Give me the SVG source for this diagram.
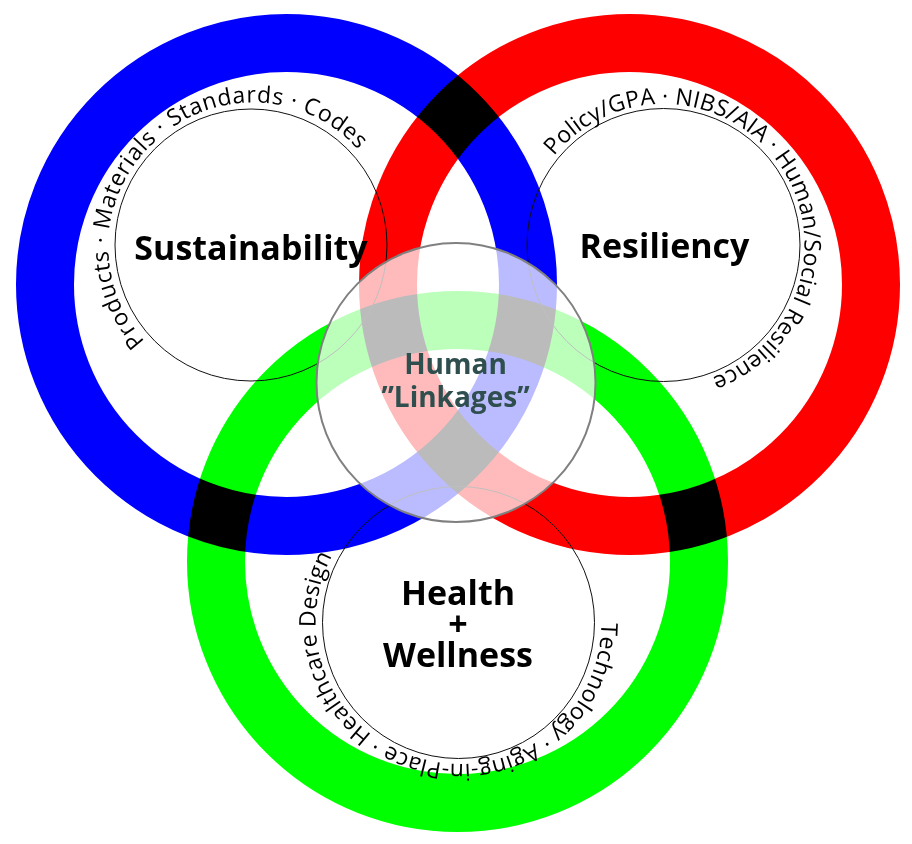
<svg xmlns="http://www.w3.org/2000/svg" width="912" height="844" viewBox="0 0 912 844">
<style>
.ring{fill:none;stroke-width:58;mix-blend-mode:multiply}
.thin{fill:none;stroke:#111;stroke-width:1}
.title{font-family:"Open Sans","Liberation Sans",sans-serif;font-weight:700;font-size:34px;fill:#000;text-anchor:middle}
.arc{font-family:"Open Sans","Liberation Sans",sans-serif;font-size:23px;fill:#000}
.hub{font-family:"Open Sans","Liberation Sans",sans-serif;font-weight:700;font-size:28px;fill:#2f4f4f;text-anchor:middle}
</style>
<defs>
<path id="pS" d="M345.3,349.8 A141,141 0 1 1 156.7,140.2 A141,141 0 1 1 345.3,349.8"/>
<path id="pR" d="M548.7,326.9 A141,141 0 1 1 778.3,163.1 A141,141 0 1 1 548.7,326.9"/>
<path id="pH" d="M492.6,485.7 A141,141 0 1 1 424.4,759.3 A141,141 0 1 1 492.6,485.7"/>
</defs>
<rect width="912" height="844" fill="#fff"/>
<g id="rings" style="isolation:isolate">
<circle id="ring-sustainability" class="ring" cx="286.5" cy="284.5" r="241.5" stroke="#0000ff"/>
<circle id="ring-resiliency" class="ring" cx="629.5" cy="284.5" r="241.5" stroke="#ff0000"/>
<circle id="ring-health" class="ring" cx="457.5" cy="561.5" r="241.5" stroke="#00ff00"/>
</g>
<g id="sustainability">
<circle class="thin" cx="251" cy="245" r="136"/>
<text class="arc"><textPath href="#pS" startOffset="50%" text-anchor="middle" textLength="449" lengthAdjust="spacing">Products · Materials · Standards · Codes</textPath></text>
<text class="title" x="251" y="260">Sustainability</text>
</g>
<g id="resiliency">
<circle class="thin" cx="663.5" cy="245" r="136.5"/>
<text class="arc"><textPath href="#pR" startOffset="50%" text-anchor="middle" textLength="519" lengthAdjust="spacing">Policy/GPA · NIBS/AIA · Human/Social Resilience</textPath></text>
<text class="title" x="664.5" y="258">Resiliency</text>
</g>
<g id="health">
<circle class="thin" cx="458.5" cy="622.5" r="136"/>
<text class="arc"><textPath href="#pH" startOffset="50%" text-anchor="middle" textLength="516" lengthAdjust="spacing">Technology · Aging-in-Place · Healthcare Design</textPath></text>
<text class="title" x="458" y="605">Health</text>
<text class="title" x="458" y="636">+</text>
<text class="title" x="458" y="667">Wellness</text>
</g>
<g id="human-linkages">
<circle cx="456" cy="382.5" r="139.5" fill="#fff" fill-opacity="0.733" stroke="#808080" stroke-width="2"/>
<text class="hub" x="455.5" y="374">Human</text>
<text class="hub" x="455.5" y="407">”Linkages”</text>
</g>
</svg>
